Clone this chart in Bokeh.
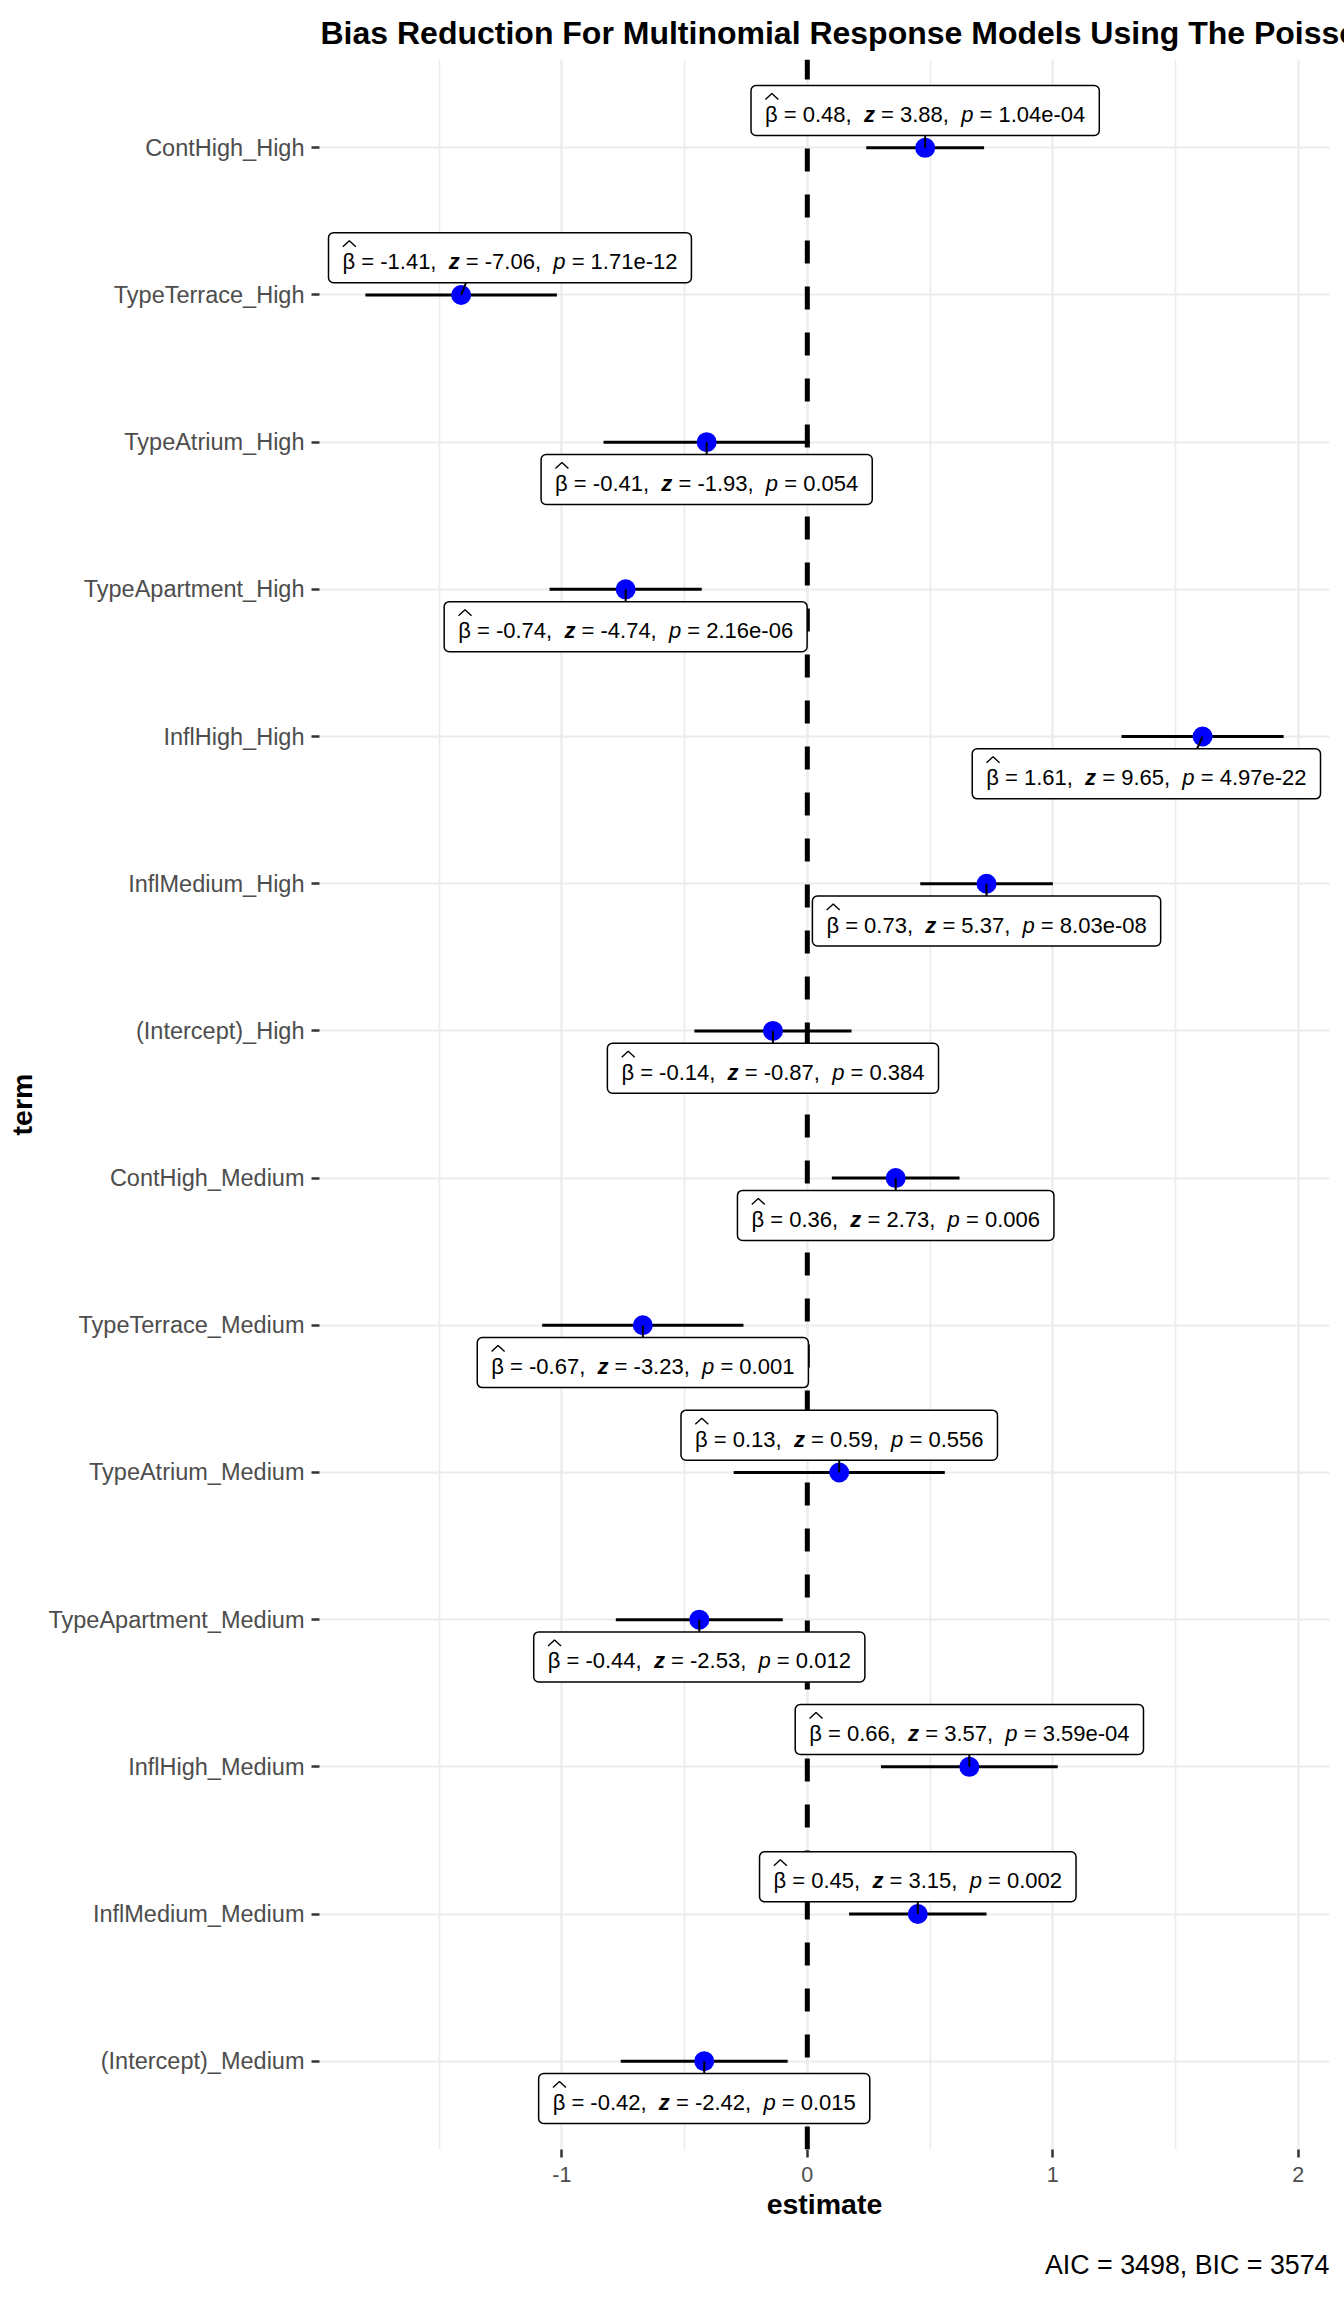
from bokeh.plotting import figure
from bokeh.models import ColumnDataSource, FixedTicker, Title, Range1d, Quad
from bokeh.core.properties import value
from bokeh.embed import file_html
from bokeh.resources import INLINE

# ---------------- data ----------------
terms = ["ContHigh_High", "TypeTerrace_High", "TypeAtrium_High", "TypeApartment_High",
         "InflHigh_High", "InflMedium_High", "(Intercept)_High", "ContHigh_Medium",
         "TypeTerrace_Medium", "TypeAtrium_Medium", "TypeApartment_Medium",
         "InflHigh_Medium", "InflMedium_Medium", "(Intercept)_Medium"]
estimate = [0.48, -1.41, -0.41, -0.74, 1.61, 0.73, -0.14, 0.36, -0.67, 0.13, -0.44, 0.66, 0.45, -0.42]
conf_low = [0.24, -1.80, -0.83, -1.05, 1.28, 0.46, -0.46, 0.10, -1.08, -0.30, -0.78, 0.30, 0.17, -0.76]
conf_high = [0.72, -1.02, 0.01, -0.43, 1.94, 1.00, 0.18, 0.62, -0.26, 0.56, -0.10, 1.02, 0.73, -0.08]
z_stat = [3.88, -7.06, -1.93, -4.74, 9.65, 5.37, -0.87, 2.73, -3.23, 0.59, -2.53, 3.57, 3.15, -2.42]
p_text = ["1.04e-04", "1.71e-12", "0.054", "2.16e-06", "4.97e-22", "8.03e-08", "0.384",
          "0.006", "0.001", "0.556", "0.012", "3.59e-04", "0.002", "0.015"]
x_ticks = [-1, 0, 1, 2]
x_tick_labels = ["-1", "0", "1", "2"]
x_minor = [-1.5, -0.5, 0.5, 1.5]
title_text = "Bias Reduction For Multinomial Response Models Using The Poisson Trick"
caption_text = "AIC = 3498, BIC = 3574"
x_label = "estimate"
y_label = "term"

# layout of the repelled labels: +1 above the row, -1 below
label_side = [1, 1, -1, -1, -1, -1, -1, -1, -1, 1, -1, 1, 1, -1]

# ---------------- geometry ----------------
W, H = 1344, 2304
BL, BR, BT, BB = 319, 15, 59, 155
FONT = "Liberation Sans"

n = len(terms)
ypos = [n - i for i in range(n)]
lo, hi = min(conf_low), max(conf_high)
pad = 0.05 * (hi - lo)
x0, x1 = lo - pad, hi + pad
y0, y1 = 0.4, n + 0.6
pxx = (W - BL - BR) / (x1 - x0)
pxy = (H - BT - BB) / (y1 - y0)

LBL_FS = 22
OFF = 37.3
BOX_H = 50
PAD = 14
MARGIN = 9
TXT_DY = 4

ADV = {' ': 278, ',': 278, '-': 333, '.': 278, '=': 584, 'e': 556, 'z': 500, 'p': 556, 'β': 575}
for d in "0123456789":
    ADV[d] = 556


def tw(s):
    return sum(ADV[c] for c in s) * LBL_FS / 1000.0


SP = tw(" ")

piece_names = ["b", "s1", "z", "s2", "p", "s3"]
pieces = {k: dict(x=[], y=[], text=[], xo=[]) for k in piece_names}
hats = dict(xs=[], ys=[])
boxes = dict(left=[], right=[], bottom=[], top=[])
seg = dict(x0=[], y0=[], x1=[], y1=[])

for i in range(n):
    txt = {"b": "β", "s1": f"= {estimate[i]:.2f},", "z": "z",
           "s2": f"= {z_stat[i]:.2f},", "p": "p", "s3": f"= {p_text[i]}"}
    offs = {}
    o = 0.0
    offs["b"] = o
    o += tw(txt["b"]) + SP
    offs["s1"] = o
    o += tw(txt["s1"]) + 2 * SP
    offs["z"] = o
    o += tw(txt["z"]) + SP
    offs["s2"] = o
    o += tw(txt["s2"]) + 2 * SP
    offs["p"] = o
    o += tw(txt["p"]) + SP
    offs["s3"] = o
    o += tw(txt["s3"])
    total = o
    bw = total + 2 * PAD
    half = (bw / 2 + MARGIN) / pxx
    lx = min(max(estimate[i], x0 + half), x1 - half)
    ly = ypos[i] + label_side[i] * OFF / pxy
    start = -total / 2
    for k in piece_names:
        pieces[k]["x"].append(lx)
        pieces[k]["y"].append(ly)
        pieces[k]["text"].append(txt[k])
        pieces[k]["xo"].append(start + offs[k])
    # wide hat over beta (pixel offsets converted through the scales)
    hc = start + tw("β") / 2 + 0.5
    hats["xs"].append([lx + (hc - 6.5) / pxx, lx + hc / pxx, lx + (hc + 6.5) / pxx])
    hats["ys"].append([ly + 11 / pxy, ly + 17 / pxy, ly + 11 / pxy])
    boxes["left"].append(lx - bw / 2 / pxx)
    boxes["right"].append(lx + bw / 2 / pxx)
    boxes["bottom"].append(ly - BOX_H / 2 / pxy)
    boxes["top"].append(ly + BOX_H / 2 / pxy)
    seg["x0"].append(estimate[i])
    seg["y0"].append(ypos[i])
    seg["x1"].append(estimate[i] + 0.1 * (lx - estimate[i]))
    seg["y1"].append(ly - label_side[i] * (BOX_H / 2) / pxy)

# ---------------- figure ----------------
p = figure(width=W, height=H, x_range=Range1d(x0, x1), y_range=Range1d(y0, y1),
           output_backend="svg", toolbar_location=None,
           min_border_left=BL, min_border_right=BR, min_border_top=BT, min_border_bottom=BB,
           title=title_text)
p.background_fill_color = "white"
p.border_fill_color = "white"
p.outline_line_color = None

p.title.text_font = FONT
p.title.text_font_size = "32px"
p.title.text_font_style = "bold"
p.title.text_color = "black"
p.title.align = "left"
p.title.standoff = 18
p.title.offset = 1

# grid
p.xgrid.ticker = FixedTicker(ticks=x_ticks, minor_ticks=x_minor)
p.xgrid.grid_line_color = "#EBEBEB"
p.xgrid.grid_line_width = 2.2
p.xgrid.minor_grid_line_color = "#EBEBEB"
p.xgrid.minor_grid_line_width = 1.6
p.ygrid.grid_line_color = "#EBEBEB"
p.ygrid.grid_line_width = 2.2

# axes
p.xaxis.ticker = FixedTicker(ticks=x_ticks, minor_ticks=x_minor)
p.xaxis.major_label_overrides = {t: s for t, s in zip(x_ticks, x_tick_labels)}
p.yaxis.ticker = FixedTicker(ticks=ypos)
p.yaxis.major_label_overrides = {y: t for y, t in zip(ypos, terms)}
for ax in (p.xaxis, p.yaxis):
    ax.axis_line_color = None
    ax.major_tick_line_color = "#333333"
    ax.major_tick_line_width = 2.5
    ax.major_tick_out = 8
    ax.major_tick_in = 0
    ax.minor_tick_line_color = None
    ax.major_label_text_color = "#4D4D4D"
    ax.major_label_text_font = FONT
    ax.axis_label_text_font = FONT
    ax.axis_label_text_font_style = "bold"
    ax.axis_label_text_color = "black"
    ax.axis_label_text_font_size = "28.5px"
p.xaxis.major_label_text_font_size = "21.5px"
p.yaxis.major_label_text_font_size = "23.5px"
p.xaxis.major_label_standoff = 9
p.yaxis.major_label_standoff = 7
p.xaxis.axis_label = x_label
p.yaxis.axis_label = y_label
p.xaxis.axis_label_standoff = 3
p.yaxis.axis_label_standoff = 7

cap = Title(text=caption_text, align="right", text_font=FONT, text_font_size="26.8px",
            text_font_style="normal", text_color="black", standoff=50, offset=0)
p.add_layout(cap, "below")

# zero reference line (dashes start at the bottom of the panel)
p.segment(x0=[0], y0=[y0], x1=[0], y1=[y1], line_color="black", line_width=5, line_dash="23 23")

# error bars and points
p.segment(x0=conf_low, y0=ypos, x1=conf_high, y1=ypos, line_color="black", line_width=3)
p.scatter(x=estimate, y=ypos, size=20, fill_color="#0000FF", line_color="#0000FF", line_width=0)

# label connectors
p.segment(x0="x0", y0="y0", x1="x1", y1="y1", source=ColumnDataSource(seg), line_color="black", line_width=2)

# label boxes
qkw = dict(fill_color="white", line_color="black", line_width=1.5)
if "border_radius" in Quad.properties():
    qkw["border_radius"] = 5
p.quad(left="left", right="right", bottom="bottom", top="top", source=ColumnDataSource(boxes), **qkw)

styles = {"b": "normal", "s1": "normal", "z": "bold italic", "s2": "normal", "p": "italic", "s3": "normal"}
for k in piece_names:
    p.text(x="x", y="y", text="text", x_offset="xo", y_offset=TXT_DY, source=ColumnDataSource(pieces[k]),
           text_font=value(FONT), text_font_size=value(f"{LBL_FS}px"), text_font_style=value(styles[k]),
           text_color="black", text_align="left", text_baseline="alphabetic")
p.multi_line(xs="xs", ys="ys", source=ColumnDataSource(hats), line_color="black", line_width=1.4)

open("out.html", "w").write(file_html(p, INLINE))
